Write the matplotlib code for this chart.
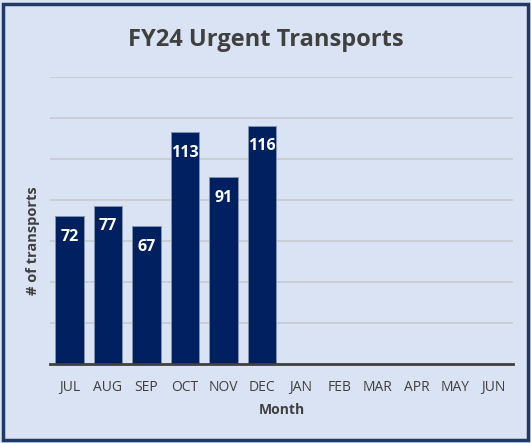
import matplotlib
matplotlib.use('Agg')
import matplotlib.pyplot as plt
from matplotlib.patches import Rectangle

# Data
months = ['JUL', 'AUG', 'SEP', 'OCT', 'NOV', 'DEC', 'JAN', 'FEB', 'MAR', 'APR', 'MAY', 'JUN']
transports = [72, 77, 67, 113, 91, 116]

bg = '#DAE3F3'
bar_color = '#002060'
text_color = '#404040'

plt.rcParams['font.family'] = ['Open Sans', 'DejaVu Sans']

fig = plt.figure(figsize=(5.31, 4.43), dpi=100, facecolor=bg)
ax = fig.add_axes([0.0942, 0.179, 0.8718, 0.648])
ax.set_facecolor(bg)

x = list(range(len(months)))
bars = ax.bar(x[:len(transports)], transports, width=0.74, color=bar_color,
              edgecolor='#8497B0', linewidth=0.6, zorder=3)

for b, v in zip(bars, transports):
    ax.text(b.get_x() + b.get_width() / 2, v - 10, str(v), ha='center', va='center',
            color='white', fontsize=11.5, fontweight='bold', zorder=4)

ax.set_xlim(-0.5, len(months) - 0.5)
ax.set_ylim(0, 140)
ax.set_yticks(range(20, 141, 20))
ax.yaxis.grid(True, color='#C4C8CE', linewidth=1.1, zorder=0)
ax.tick_params(axis='y', left=False, labelleft=False)
ax.set_xticks(x)
ax.set_xticklabels(months, fontsize=10, color=text_color)
ax.tick_params(axis='x', bottom=False, pad=8)

for s in ['top', 'right', 'left']:
    ax.spines[s].set_visible(False)
ax.spines['bottom'].set_color(text_color)
ax.spines['bottom'].set_linewidth(2)
ax.spines['bottom'].set_zorder(5)

ax.set_xlabel('Month', fontsize=10, fontweight='bold', color=text_color, labelpad=6)
ax.set_ylabel('# of transports', fontsize=10.5, fontweight='bold', color=text_color)
ax.yaxis.set_label_coords(-0.022, 0.43)

fig.text(0.501, 0.91, 'FY24 Urgent Transports', ha='center', va='center',
         fontsize=17, fontweight='bold', color=text_color)

# outer frame
fig.patches.append(Rectangle((0.006, 0.006), 0.988, 0.986, transform=fig.transFigure,
                             fill=False, edgecolor='#1F3864', linewidth=2.5))

plt.savefig('out.png', dpi=100, facecolor=bg)
